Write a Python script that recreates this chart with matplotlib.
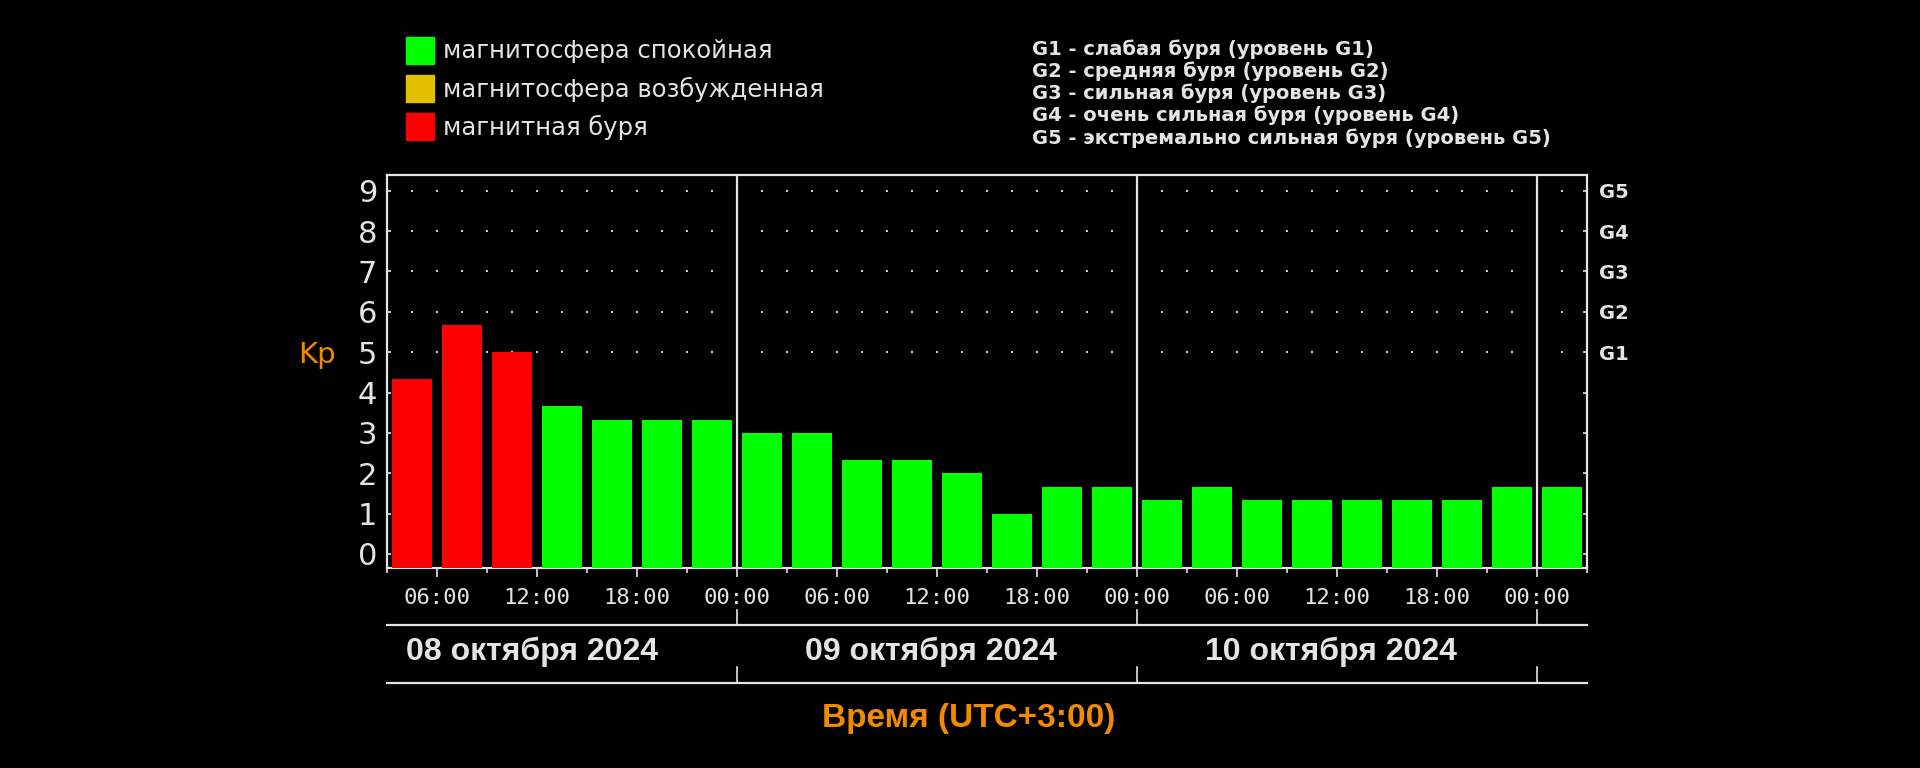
import numpy as np
import matplotlib
matplotlib.use("Agg")
import matplotlib.pyplot as plt
from matplotlib.patches import Rectangle

# Kp по 3-часовым интервалам (UTC+3), начиная с 03:00 08.10.2024
kp = [4.33, 5.67, 5.0, 3.67, 3.33, 3.33, 3.33,
      3.0, 3.0, 2.33, 2.33, 2.0, 1.0, 1.67, 1.67,
      1.33, 1.67, 1.33, 1.33, 1.33, 1.33, 1.33, 1.67,
      1.67]
# 0 - спокойная, 1 - возбужденная, 2 - буря
state = [2, 2, 2, 0, 0, 0, 0,
         0, 0, 0, 0, 0, 0, 0, 0,
         0, 0, 0, 0, 0, 0, 0, 0,
         0]
state_colors = ["#00ff00", "#e0c000", "#ff0000"]
state_names = ["магнитосфера спокойная", "магнитосфера возбужденная", "магнитная буря"]

time_labels = ["06:00", "12:00", "18:00", "00:00"] * 3
day_labels = ["08 октября 2024", "09 октября 2024", "10 октября 2024"]
day_bounds = [7, 15, 23]
g_labels = ["G1", "G2", "G3", "G4", "G5"]
g_notes = ["G1 - слабая буря (уровень G1)",
           "G2 - средняя буря (уровень G2)",
           "G3 - сильная буря (уровень G3)",
           "G4 - очень сильная буря (уровень G4)",
           "G5 - экстремально сильная буря (уровень G5)"]

W = "#e4e4e4"
ORANGE = "#f08a00"

fig = plt.figure(figsize=(19.2, 7.68), dpi=100, facecolor="black")
ax = fig.add_axes([387 / 1920, 1 - 568 / 768, 1200 / 1920, 393 / 768])
ax.set_facecolor("black")

n = len(kp)
ymin, ymax = -0.347, 9.39
ax.set_xlim(0, n)
ax.set_ylim(ymin, ymax)

# точки сетки
gx, gy = np.meshgrid(np.arange(0.5, n, 0.5), np.arange(5, 10))
ax.scatter(gx.ravel(), gy.ravel(), s=2.5, marker="s", color="#cfcfcf", lw=0, zorder=1)

x = np.arange(n) + 0.5
ax.bar(x, np.array(kp) - ymin, bottom=ymin, width=0.8,
       color=[state_colors[s] for s in state], zorder=3)

for b in day_bounds:
    ax.axvline(b, color=W, lw=1.6, zorder=4)

for sp in ax.spines.values():
    sp.set_color(W)
    sp.set_linewidth(1.6)

ax.set_yticks(range(10))
ax.tick_params(axis="y", direction="in", length=3, width=1.2, color=W,
               labelcolor=W, labelsize=22, pad=7)
ax.set_xticks(np.arange(1, n, 2))
ax.set_xticklabels(time_labels, family="DejaVu Sans Mono", fontsize=16)
ax.set_xticks(np.arange(0, n + 1, 2), minor=True)
ax.tick_params(axis="x", which="major", direction="out", length=6.5, width=1.2,
               color=W, labelcolor=W, pad=8)
ax.tick_params(axis="x", which="minor", direction="out", length=3.6, width=1.2, color=W)

ax2 = ax.twinx()
ax2.set_ylim(ymin, ymax)
ax2.set_yticks(range(10))
ax2.set_yticklabels([""] * 5 + g_labels, fontsize=14, fontweight="bold")
ax2.tick_params(axis="y", direction="in", length=3, width=1.2, color=W,
                labelcolor=W, pad=9)
for sp in ax2.spines.values():
    sp.set_visible(False)

# нижняя шкала дат
tr = ax.get_xaxis_transform()
for yl in [-0.1438, -0.2918]:
    ax.plot([0, n], [yl, yl], transform=tr, color=W, lw=1.6, clip_on=False)
for b in day_bounds:
    ax.plot([b, b], [-0.1069, -0.1438], transform=tr, color=W, lw=1.2, clip_on=False)
    ax.plot([b, b], [-0.2519, -0.2918], transform=tr, color=W, lw=1.2, clip_on=False)
for xp, lab in zip([2.9, 10.87, 18.88], day_labels):
    ax.text(xp, -0.213, lab, transform=tr, ha="center", va="center", color=W,
            fontsize=23, fontweight="bold", family="Liberation Sans")

fig.text(969 / 1920, 1 - 718 / 768, "Время (UTC+3:00)", ha="center", va="center",
         color=ORANGE, fontsize=24, fontweight="bold", family="Liberation Sans")
fig.text(317 / 1920, 1 - 355 / 768, "Kp", ha="center", va="center",
         color=ORANGE, fontsize=21)

# легенда состояний
for i, (c, name) in enumerate(zip(state_colors, state_names)):
    yc = 1 - (51 + 38 * i) / 768
    fig.add_artist(Rectangle((406 / 1920, yc - 13 / 768), 28 / 1920, 27 / 768,
                             transform=fig.transFigure, color=c))
    fig.text(443 / 1920, yc, name, ha="left", va="center", color=W, fontsize=17.5)

# шкала G
for i, note in enumerate(g_notes):
    fig.text(1032 / 1920, 1 - (49 + 22.2 * i) / 768, note, ha="left", va="center",
             color=W, fontsize=14, fontweight="bold")

fig.savefig("out.png", dpi=100, facecolor="black")
